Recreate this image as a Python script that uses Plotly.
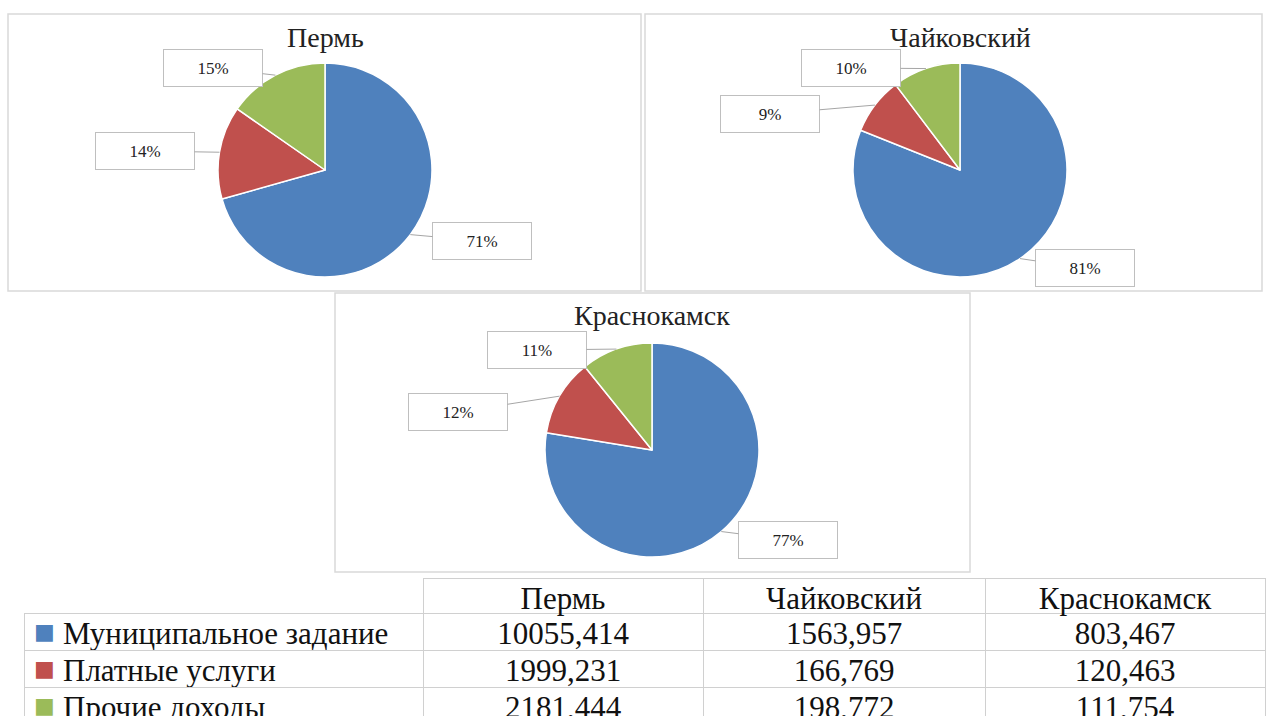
import math
import plotly.graph_objects as go

# ---- data ----
cities = ["Пермь", "Чайковский", "Краснокамск"]
categories = ["Муниципальное задание", "Платные услуги", "Прочие доходы"]
municipal = [10055.414, 1563.957, 803.467]
paid = [1999.231, 166.769, 120.463]
other = [2181.444, 198.772, 111.754]
# percentage labels as printed on the chart
pct_perm = ["71%", "14%", "15%"]
pct_chaik = ["81%", "9%", "10%"]
pct_krasn = ["77%", "12%", "11%"]

colors = ["#4F81BD", "#C0504D", "#9BBB59"]

W, H = 1269, 716
def px(x): return x / W
def py(y): return 1 - y / H

SERIF = "Liberation Serif"
fig = go.Figure()

pct_lists = [pct_perm, pct_chaik, pct_krasn]
centers = [(325, 170), (960, 170), (652, 450)]
R = 107
label_boxes = [
    [(482, 241), (145, 151), (213, 68)],
    [(1085, 268), (770, 114), (851, 68)],
    [(788, 540), (458, 412), (537, 350)],
]
title_pos = [(325, 37), (960, 37), (652, 316)]
panels = [(8, 14, 641, 291), (645, 14, 1262, 291), (335, 293, 970, 572)]

annotations = []
shapes = []
for x0, y0, x1, y1 in panels:
    shapes.append(dict(type="rect", xref="paper", yref="paper",
                       x0=px(x0), x1=px(x1), y0=py(y1), y1=py(y0),
                       line=dict(color="#D9D9D9", width=1.5), layer="below"))

for i, city in enumerate(cities):
    vals = [municipal[i], paid[i], other[i]]
    cx, cy = centers[i]
    fig.add_trace(go.Pie(
        labels=categories, values=vals, sort=False, direction="clockwise",
        rotation=0, textinfo="none", hoverinfo="label+value+percent",
        marker=dict(colors=colors, line=dict(color="white", width=1.5)),
        domain=dict(x=[px(cx - R), px(cx + R)], y=[py(cy + R), py(cy - R)]),
        showlegend=False, name=city,
    ))
    tx, ty = title_pos[i]
    annotations.append(dict(x=px(tx), y=py(ty), xref="paper", yref="paper",
                            xanchor="center", yanchor="middle",
                            text=city, showarrow=False,
                            font=dict(family=SERIF, size=28, color="#222")))
    total = sum(vals)
    cum = 0.0
    for j, v in enumerate(vals):
        mid = (cum + v / 2) / total * 2 * math.pi
        cum += v
        tipx = cx + R * math.sin(mid)
        tipy = cy - R * math.cos(mid)
        bx, by = label_boxes[i][j]
        annotations.append(dict(
            x=px(tipx), y=py(tipy), xref="paper", yref="paper",
            ax=bx - tipx, ay=by - tipy, axref="pixel", ayref="pixel",
            text=pct_lists[i][j], showarrow=True, arrowhead=0,
            arrowcolor="#A6A6A6", arrowwidth=1,
            bordercolor="#BFBFBF", borderwidth=1, bgcolor="white",
            width=96, height=34,
            font=dict(family=SERIF, size=17, color="#222")))

# ---- table ----
def fmt(v):
    return f"{v:.3f}".replace(".", ",")

NB = "\u00a0"
# non-breaking spaces: keep each label on one line and leave room for the colour key
row_labels = [NB * 4 + name.replace(" ", NB) for name in categories]
col_perm = [fmt(municipal[0]), fmt(paid[0]), fmt(other[0])]
col_chaik = [fmt(municipal[1]), fmt(paid[1]), fmt(other[1])]
col_krasn = [fmt(municipal[2]), fmt(paid[2]), fmt(other[2])]

TABLE_TOP = 578
HEADER_H = 35
ROW_H = 37
TABLE_LEFT = 24
fig.add_trace(go.Table(
    domain=dict(x=[px(TABLE_LEFT), px(1265)], y=[0, py(TABLE_TOP)]),
    columnwidth=[399, 280, 282, 280],
    header=dict(values=[""] + cities, height=HEADER_H,
                align="center",
                line=dict(color=["rgba(0,0,0,0)", "#D0D0D0", "#D0D0D0", "#D0D0D0"], width=1),
                fill=dict(color="white"),
                font=dict(family=SERIF, size=31, color="#111")),
    cells=dict(values=[row_labels, col_perm, col_chaik, col_krasn], height=ROW_H,
               align=["left", "center", "center", "center"],
               line=dict(color="#D0D0D0", width=1),
               fill=dict(color="white"),
               font=dict(family=SERIF, size=31, color="#111")),
))

# colour keys in front of the row labels
for k, c in enumerate(colors):
    yc = TABLE_TOP + HEADER_H + ROW_H * (k + 0.5)
    annotations.append(dict(x=px(TABLE_LEFT + 20), y=py(yc), xref="paper", yref="paper",
                            xanchor="center", yanchor="middle", showarrow=False,
                            text="■", font=dict(family="DejaVu Sans", size=22, color=c)))

fig.update_layout(
    width=W, height=H, margin=dict(l=0, r=0, t=0, b=0),
    paper_bgcolor="white", plot_bgcolor="white",
    annotations=annotations, shapes=shapes,
)
fig.write_html("out.html", config={"displayModeBar": False},
               post_script="document.body.style.margin='0';document.body.style.overflow='hidden';")
